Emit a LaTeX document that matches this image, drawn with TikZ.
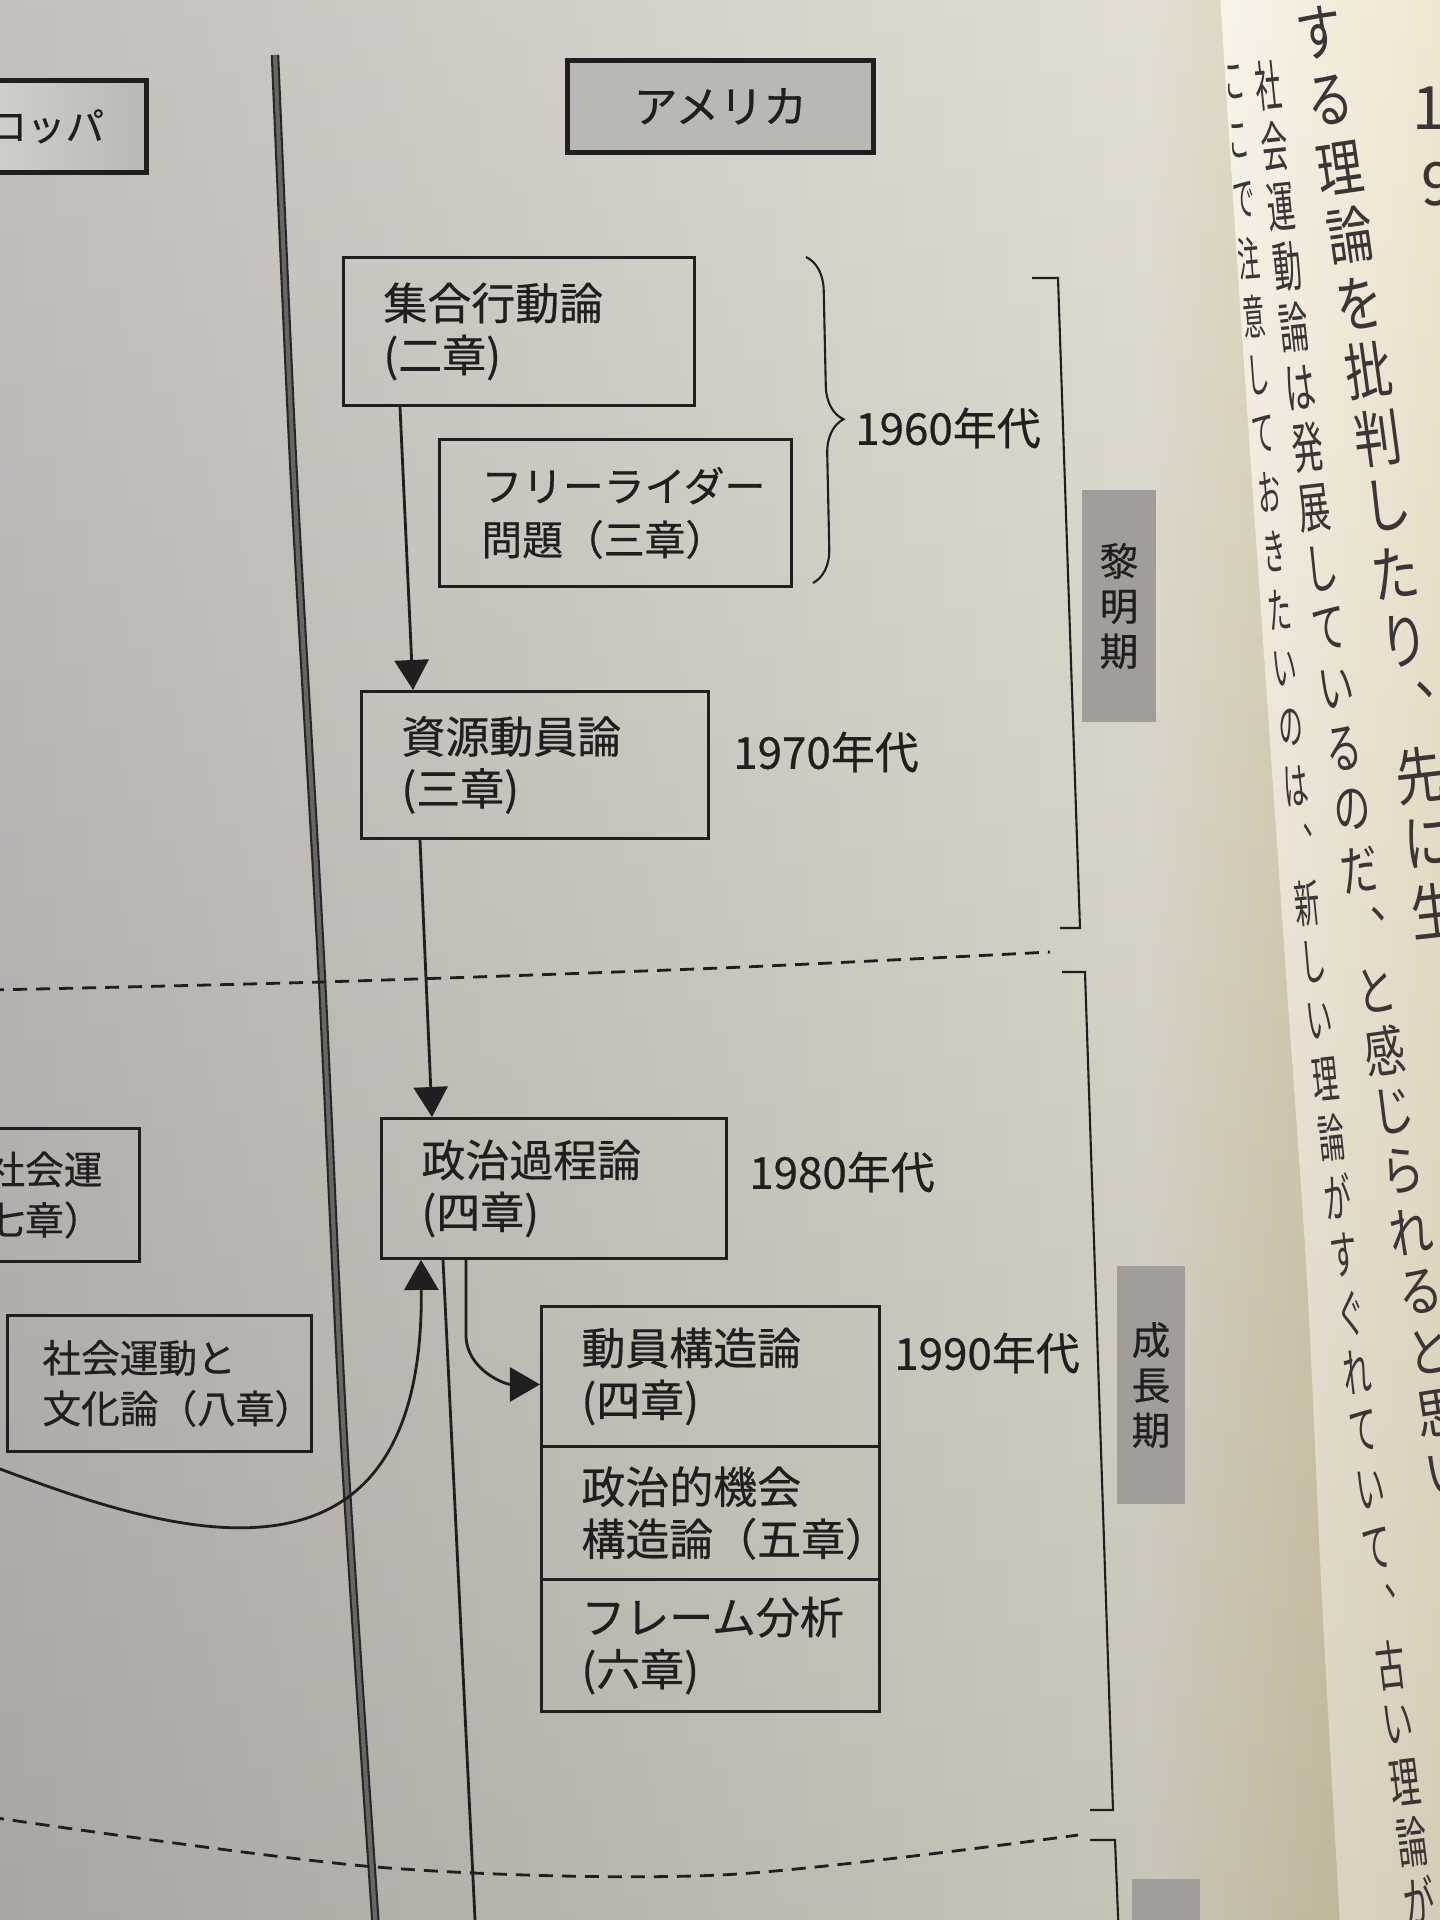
\documentclass[tikz,border=0pt]{standalone}
\usepackage{fontspec}
\setmainfont{Noto Sans CJK JP}
\newfontface\dgmface{Noto Sans CJK JP}[FakeBold=0.5]
\usetikzlibrary{arrows.meta,positioning,calc,decorations.pathreplacing}

\definecolor{ink}{RGB}{32,30,30}
\definecolor{bodyink}{RGB}{58,53,54}
\definecolor{headgray}{RGB}{184,184,181}
\definecolor{headlight}{RGB}{218,217,214}
\definecolor{periodgray}{RGB}{160,157,154}
\definecolor{lpleft}{RGB}{188,184,182}
\definecolor{lpmid}{RGB}{208,205,199}
\definecolor{lpright}{RGB}{224,219,205}
\definecolor{gutter}{RGB}{214,203,172}
\definecolor{rpedge}{RGB}{248,243,231}
\definecolor{rpfar}{RGB}{238,228,203}

\newcommand{\dgmfont}{\dgmface\fontsize{12.5}{14.8}\selectfont}
\newcommand{\sidefont}{\dgmface\fontsize{11}{14.4}\selectfont}
\newcommand{\periodfont}{\dgmface\fontsize{11}{12.8}\selectfont}

\tikzset{
  theory/.style={draw=ink, line width=0.8pt, rectangle, anchor=north west, align=left,
    inner xsep=0.4cm, inner ysep=0pt, font=\dgmfont, text=ink},
  header/.style={draw=ink, line width=1.3pt, fill=headgray, inner sep=0pt, font=\dgmfont, text=ink},
  period/.style={fill=periodgray, inner sep=0pt, minimum width=0.72cm, align=center,
    font=\periodfont, text=ink},
  decade/.style={inner sep=0pt, font=\dgmfont, text=ink},
  flow/.style={draw=ink, line width=0.8pt, -{Triangle[length=0.3cm,width=0.34cm]}},
  link/.style={draw=ink, line width=0.8pt},
  divider/.style={draw=ink, line width=0.8pt, dash pattern=on 0.14cm off 0.09cm},
  bodytext/.style={inner sep=0pt, text=bodyink}
}

% one column of the facing page: x = A + B t + C t^2, t = y/100
% #7 (width scale) and #8 (size) may use \pct
\newcommand{\pagecolumn}[9]{%
  \foreach \pcc [count=\i] in {#9}{%
    \pgfmathsetmacro{\pcy}{#2+(\i-1)*#3}%
    \pgfmathsetmacro{\pct}{\pcy/100}%
    \pgfmathsetmacro{\pcx}{#4+#5*\pct+#6*\pct*\pct}%
    \pgfmathsetmacro{\pcr}{atan((#5+2*#6*\pct)/100)}%
    \pgfmathsetmacro{\pcs}{#7}%
    \pgfmathsetmacro{\pcf}{#8}%
    \node[bodytext, rotate=\pcr] (#1-\i) at (\pcx,\pcy) {\fontsize{\pcf}{\pcf}\selectfont\scalebox{\pcs}[1]{\pcc}};
  }}

\begin{document}
\begin{tikzpicture}[x=0.01cm, y=-0.01cm]
\useasboundingbox (0,0) rectangle (1440,1920);
\clip (0,0) rectangle (1440,1920);

% paper
\shade[left color=lpleft, middle color=lpmid, right color=lpright] (0,0) rectangle (1150,1920);
\shade[left color=lpright, right color=gutter] (1150,0) rectangle (1345,1920);
\shade[left color=rpedge, right color=rpfar] plot[smooth] coordinates {(1220,-5) (1241,320) (1263,640) (1285,960) (1307,1280) (1322,1600) (1340,1925)}
  -- (1445,1925) -- (1445,-5) -- cycle;
\shade[top color=white, bottom color=black, opacity=0.1] (0,0) rectangle (1440,1920);

% column rule and period dividers
\draw[line width=0.6pt, draw=black!85, double=black!60, double distance=1.2pt]
  plot[smooth] coordinates {(275,55) (294,480) (321,960) (344,1440) (376,1930)};
\draw[divider] plot[smooth] coordinates {(-10,990) (321,982) (720,968) (1050,952)};
\draw[divider] plot[smooth] coordinates {(-10,1817) (376,1867) (720,1875) (1078,1835)};

% headings
\node[header, anchor=north east, minimum width=2.2cm, minimum height=0.92cm, text width=1.35cm,
  align=right, font=\sidefont, left color=headlight, right color=headgray] (europe) at (149,78) {ロッパ};
\node[header, anchor=north west, minimum width=3.06cm, minimum height=0.92cm] (america) at (565,58) {アメリカ};

% theories
\node[theory, minimum width=3.51cm, minimum height=1.48cm, text width=2.71cm] (collective) at (342,256) {集合行動論\\(二章)};
\node[theory, minimum width=3.52cm, minimum height=1.47cm, text width=2.68cm, inner xsep=0.42cm,
  font=\dgmface\fontsize{11.6}{15.2}\selectfont] (freerider) at (438,438) {フリーライダー\\問題（三章）};
\node[theory, minimum width=3.47cm, minimum height=1.47cm, text width=2.67cm] (resource) at (360,690) {資源動員論\\(三章)};
\node[theory, minimum width=3.45cm, minimum height=1.40cm, text width=2.65cm] (process) at (380,1117) {政治過程論\\(四章)};
\node[theory, minimum width=3.38cm, minimum height=1.40cm, text width=2.58cm] (mobilize) at (540,1305) {動員構造論\\(四章)};
\node[theory, minimum width=3.38cm, minimum height=1.33cm, text width=2.58cm, below=-0.8pt of mobilize] (opportunity) {政治的機会\\構造論（五章）};
\node[theory, minimum width=3.38cm, minimum height=1.32cm, text width=2.58cm, below=-0.8pt of opportunity] (frame) {フレーム分析\\(六章)};
\node[theory, font=\sidefont, minimum width=1.98cm, minimum height=1.33cm, text width=1.08cm, inner xsep=0.45cm] (newsm) at (-60,1127) {社会運\\七章）};
\node[theory, font=\sidefont, minimum width=3.04cm, minimum height=1.36cm, text width=2.34cm, inner xsep=0.35cm] (culture) at (6,1314) {社会運動と\\文化論（八章）};

% decades
\node[decade] (d60) at (948,428) {1960年代};
\node[decade] (d70) at (826,752) {1970年代};
\node[decade] (d80) at (842,1172) {1980年代};
\node[decade] (d90) at (987,1353) {1990年代};

% connectors
\draw[flow] ($(collective.south west)+(58,0)$) -- ($(resource.north west)+(53,0)$);
\draw[flow] ($(resource.south west)+(60,0)$) -- ($(process.north west)+(52,0)$);
\draw[flow] ($(process.south west)+(86,0)$) -- ++(0,75) to[out=-90,in=180] ($(mobilize.west)+(0,8)$);
\coordinate (downlink) at (476,1940);
\draw[link] ($(process.south west)+(63,0)$) -- (downlink);
\coordinate (eufeed) at (-30,1458);
\draw[flow] (eufeed) .. controls (110,1508) and (425,1650) .. ($(process.south west)+(41,0)$);

% brace and period brackets
\draw[link, line width=0.6pt, decorate, decoration={brace, amplitude=0.34cm}] (806,257) -- (813,583);
\draw[link, line width=0.6pt] (1032,278) -- (1058,278) -- (1080,928) -- (1060,928);
\draw[link, line width=0.6pt] (1062,972) -- (1085,972) -- (1113,1810) -- (1090,1810);
\draw[link, line width=0.6pt] (1090,1840) -- (1115,1840) -- (1119,1940);
\node[period, minimum height=2.32cm, minimum width=0.74cm] (dawn) at (1119,606) {黎\\明\\期};
\node[period, minimum height=2.37cm, minimum width=0.68cm] (growth) at (1151,1385) {成\\長\\期};
\node[period, minimum height=1cm, minimum width=0.67cm, anchor=north] (third) at (1166,1878) {};

% facing page
\pagecolumn{rthree}{82}{58.65}{1228}{7.69}{0.1252}{0.45+0.006*\pct}{13+0.14*\pct}{こ,こ,で,注,意,し,て,お,き,た,い,の,は,︑,新,し,い,理,論,が,す,ぐ,れ,て,い,て,︑,古,い,理,論,が}
\pagecolumn{rtwo}{86}{60.3}{1260}{9.62}{0.2158}{0.45+0.028*\pct}{15.5}{社,会,運,動,論,は,発,展,し,て,い,る,の,だ,︑,と,感,じ,ら,れ,る,と,思,い}
\pagecolumn{rone}{33}{67.5}{1315}{15.5}{(-0.25)}{0.74+0.006*\pct}{17.5}{す,る,理,論,を,批,判,し,た,り,︑,先,に,生}
\node[bodytext, font=\fontsize{17}{17}\selectfont] (rzero-1) at (1429,108) {1};
\node[bodytext, font=\fontsize{17}{17}\selectfont] (rzero-2) at (1438,184) {9};
\end{tikzpicture}
\end{document}
